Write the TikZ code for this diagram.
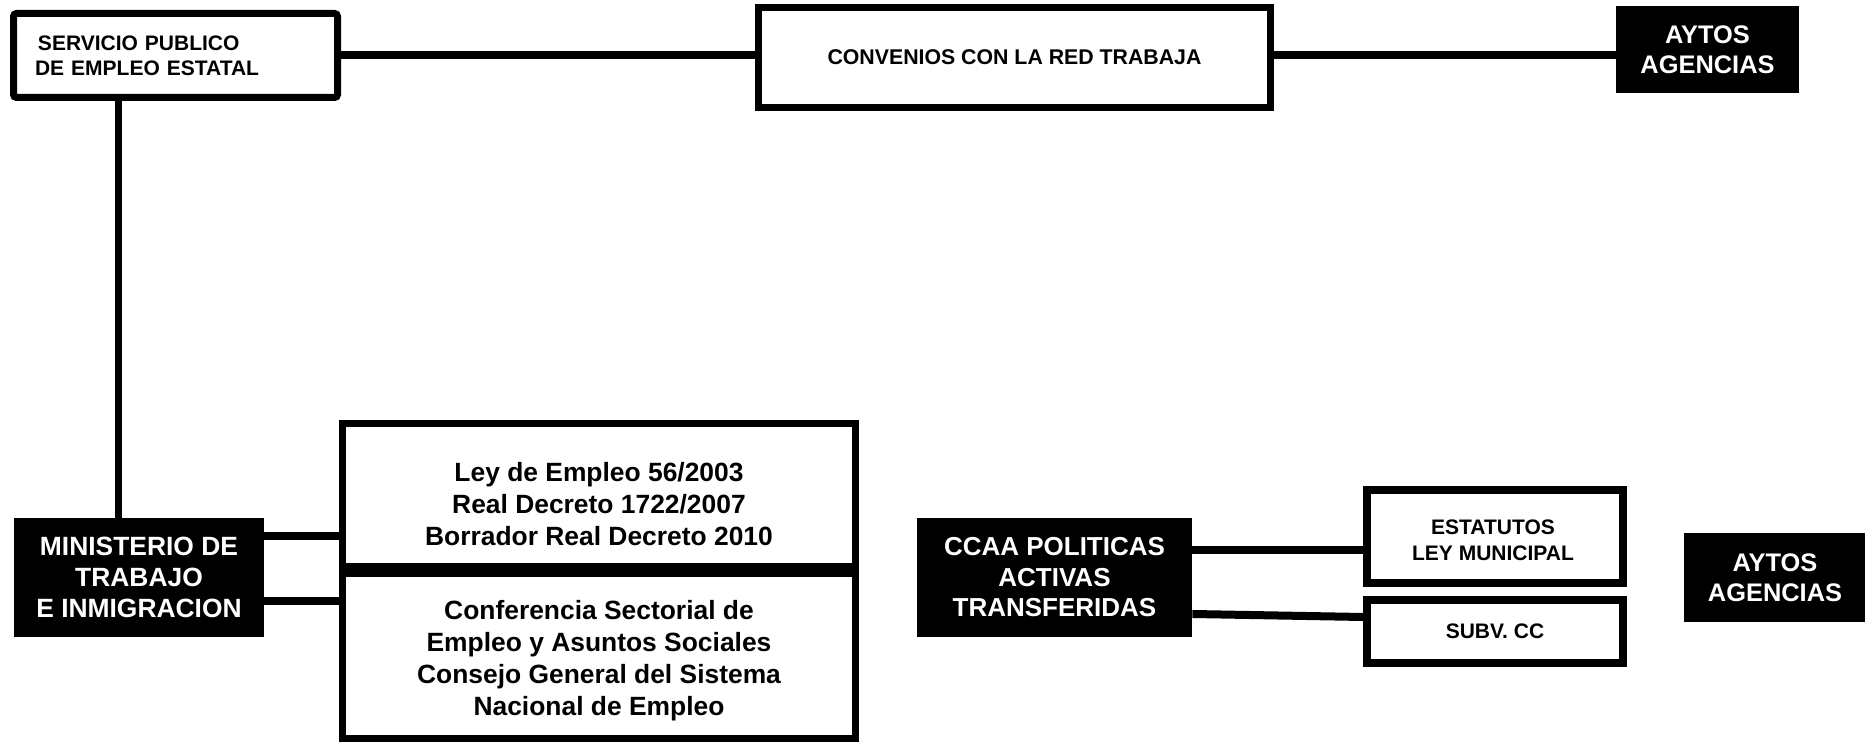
\documentclass[tikz,border=0pt]{standalone}
\usepackage{fontspec}
\setmainfont{Liberation Sans}
\usetikzlibrary{calc}
\begin{document}
\begin{tikzpicture}[x=0.5pt,y=-0.5pt,
  wbox/.style={draw=black, line width=3.5pt, fill=white, inner sep=0pt, align=center,
               font=\bfseries\fontsize{10.5}{13}\selectfont},
  bbox/.style={fill=black, text=white, inner sep=0pt, align=center,
               font=\bfseries\fontsize{13}{15.25}\selectfont},
  lawtxt/.style={inner sep=0pt, align=center, font=\bfseries\fontsize{13.2}{16}\selectfont},
  smalltxt/.style={inner sep=0pt, align=center, font=\bfseries\fontsize{10.5}{13}\selectfont},
  conn/.style={draw=black, line width=4pt}]
\useasboundingbox (0,0) rectangle (1865,742);

% top row
\node[wbox, rounded corners=1.5pt, minimum width=162pt, minimum height=42pt,
      text width=140.5pt, inner xsep=10.75pt, align=left,
      font=\bfseries\fontsize{10.5}{12.5}\selectfont] (spee) at (175.5,55.5)
      {\hspace{1.5pt}SERVICIO PUBLICO\\DE EMPLEO ESTATAL};
\node[wbox, minimum width=256pt, minimum height=50pt,
      font=\bfseries\fontsize{10.65}{13}\selectfont] (conv) at (1014.5,57.5)
      {CONVENIOS CON LA RED TRABAJA};
\node[bbox, minimum width=91.5pt, minimum height=43.5pt,
      font=\bfseries\fontsize{12.7}{15}\selectfont] (ayt1) at (1707.5,49.5)
      {AYTOS\\AGENCIAS};

% bottom left
\node[bbox, minimum width=125pt, minimum height=59.5pt,
      font=\bfseries\fontsize{13.2}{15.5}\selectfont] (min) at (139,577.5)
      {MINISTERIO DE\\TRABAJO\\E INMIGRACION};
\node[wbox, minimum width=256.5pt, minimum height=71.75pt] (law1) at (599,495.25) {};
\node[lawtxt] (law1t) at (599,504)
      {Ley de Empleo 56/2003\\Real Decreto 1722/2007\\Borrador Real Decreto 2010};
\node[wbox, minimum width=256.5pt, minimum height=82.5pt] (law2) at (599,656) {};
\node[lawtxt] (law2t) at (599,661)
      {Conferencia Sectorial de\\Empleo y Asuntos Sociales\\Consejo General del Sistema\\Nacional de Empleo};

% bottom right
\node[bbox, minimum width=137.5pt, minimum height=59.5pt] (ccaa) at (1054.5,577.5)
      {CCAA POLITICAS\\ACTIVAS\\TRANSFERIDAS};
\node[wbox, line width=4pt, minimum width=128pt, minimum height=46.5pt] (est) at (1495,536.5) {};
\node[smalltxt] (estt) at (1493,540) {ESTATUTOS\\LEY MUNICIPAL};
\node[wbox, line width=4pt, minimum width=128pt, minimum height=31.5pt] (subv) at (1495,631.5)
      {SUBV. CC};
\node[bbox, minimum width=91pt, minimum height=44.5pt,
      font=\bfseries\fontsize{12.7}{15}\selectfont] (ayt2) at (1775,577.5)
      {AYTOS\\AGENCIAS};

% connectors
\draw[conn] (spee.east) -- (spee.east -| conv.west);
\draw[conn] (conv.east |- spee.east) -- (ayt1.west |- spee.east);
\coordinate (v1) at ($(spee.south west)+(108.5,0)$);
\draw[conn, line width=3.5pt] (v1) -- (v1 |- min.north);
\coordinate (m1) at ([yshift=20.75pt]min.east);
\coordinate (m2) at ([yshift=-11.75pt]min.east);
\draw[conn] (m1) -- (m1 -| law1.west);
\draw[conn] (m2) -- (m2 -| law2.west);
\coordinate (c1) at ([yshift=13.75pt]ccaa.east);
\coordinate (c2) at ([yshift=-18.25pt]ccaa.east);
\coordinate (s2) at ([yshift=7.25pt]subv.west);
\draw[conn] (c1) -- (c1 -| est.west);
\draw[conn] (c2) -- (s2);
\end{tikzpicture}
\end{document}
